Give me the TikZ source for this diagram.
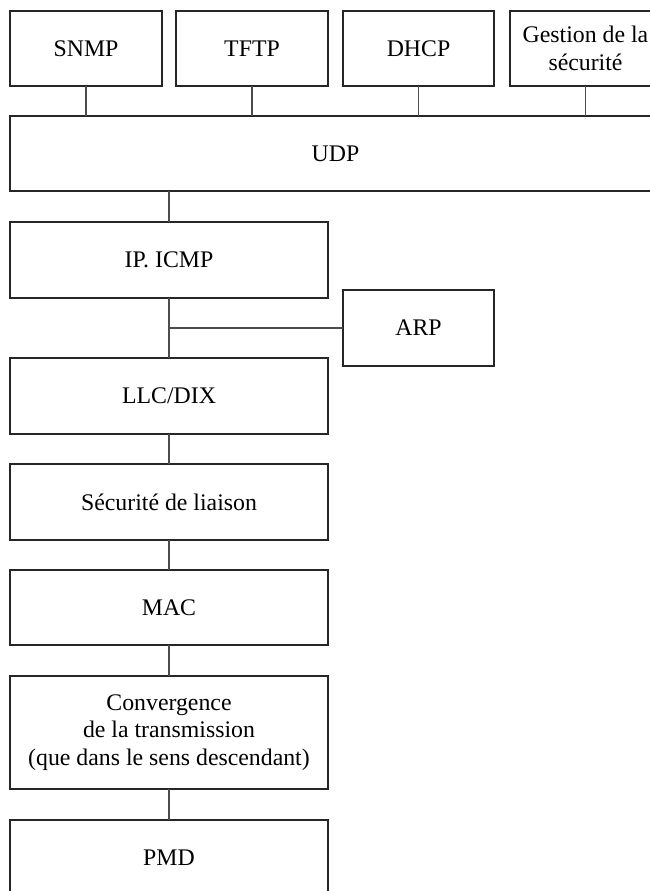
\documentclass[tikz,border=0pt]{standalone}
\usepackage{fontspec}
\setmainfont{Liberation Serif}
\begin{document}
\begin{tikzpicture}[x=1pt,y=-1pt,
  layer/.style={draw=black!85, line width=1.15pt, inner sep=0pt, outer sep=0pt,
    align=center, font=\fontsize{23.8}{27.5}\selectfont},
  link/.style={draw=black!70, line width=1.1pt}]
\useasboundingbox (0,0) rectangle (650,891);
\clip (0,0) rectangle (650,891);
% application protocols
\node[layer, minimum width=152pt, minimum height=75pt] (snmp) at (86,48.5) {SNMP};
\node[layer, minimum width=152pt, minimum height=75pt] (tftp) at (252,48.5) {TFTP};
\node[layer, minimum width=151pt, minimum height=75pt] (dhcp) at (418.5,48.5) {DHCP};
\node[layer, minimum width=151pt, minimum height=75pt] (gest) at (585.5,48.5) {Gestion de la\\sécurité};
% transport and network
\node[layer, minimum width=651pt, minimum height=75pt] (udp) at (335.5,153.5) {UDP};
\node[layer, minimum width=318pt, minimum height=76pt] (ip) at (169,260) {IP. ICMP};
\node[layer, minimum width=151pt, minimum height=76pt] (arp) at (418.5,328) {ARP};
% link layer stack
\node[layer, minimum width=318pt, minimum height=76pt] (llc) at (169,396) {LLC/DIX};
\node[layer, minimum width=318pt, minimum height=76pt] (sec) at (169,502) {Sécurité de liaison};
\node[layer, minimum width=318pt, minimum height=75pt] (mac) at (169,607.5) {MAC};
\node[layer, minimum width=318pt, minimum height=113pt] (tc) at (169,732.5) {Convergence\\de la transmission\\(que dans le sens descendant)};
\node[layer, minimum width=318pt, minimum height=76pt] (pmd) at (169,858) {PMD};
% connectors
\foreach \n in {snmp,tftp,dhcp,gest}
  \draw[link] (\n.south) -- (\n.south |- udp.north);
\draw[link] (udp.south -| ip.north) -- (ip.north);
\draw[link] (ip.south) -- (llc.north);
\coordinate (arpjoin) at (ip.south |- arp.west);
\draw[link] (arpjoin) -- (arp.west);
\draw[link] (llc.south) -- (sec.north);
\draw[link] (sec.south) -- (mac.north);
\draw[link] (mac.south) -- (tc.north);
\draw[link] (tc.south) -- (pmd.north);
\end{tikzpicture}
\end{document}
